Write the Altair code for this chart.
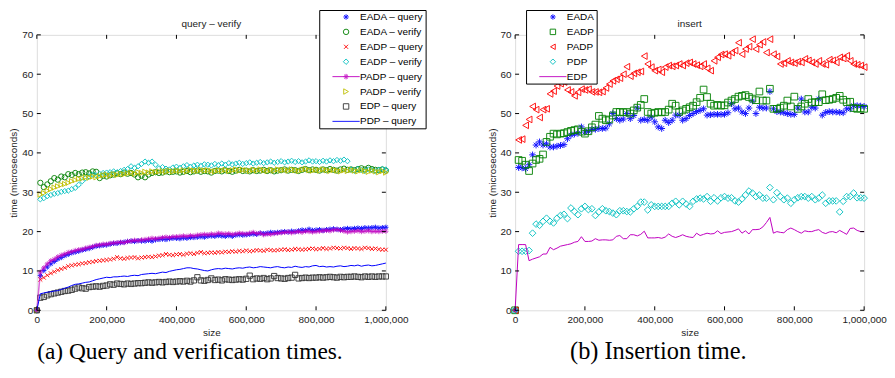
import altair as alt
import pandas as pd

SIZES = list(range(0, 1000001, 10000))
X_TICKS = [0, 200000, 400000, 600000, 800000, 1000000]
Y_TICKS = [0, 10, 20, 30, 40, 50, 60, 70]

# ---------------- left panel: query - verify ----------------
L_EADA_Q = [0, 8.8, 10.1, 11.0, 11.8, 12.4, 13.0, 13.4, 13.9, 14.2,
            14.6, 14.8, 15.0, 15.3, 15.5, 15.7, 16.0, 16.3, 16.4, 16.5,
            16.6, 16.8, 17.0, 17.0, 17.2, 17.3, 17.5, 17.6, 17.5, 17.7,
            17.6, 17.6, 17.8, 17.6, 17.9, 18.0, 18.1, 18.0, 18.2, 18.3,
            18.3, 18.2, 18.4, 18.3, 18.5, 18.5, 18.6, 18.7, 18.6, 18.8,
            18.9, 18.8, 19.0, 18.9, 18.8, 19.0, 18.8, 19.1, 19.2, 19.1,
            19.2, 19.3, 19.4, 19.3, 19.6, 19.5, 19.6, 19.8, 19.7, 19.8,
            19.9, 20.0, 19.9, 20.1, 20.0, 20.2, 20.4, 20.3, 20.6, 20.3,
            20.4, 20.5, 20.3, 20.5, 20.6, 20.7, 20.6, 20.5, 20.7, 20.8,
            20.7, 20.8, 20.9, 20.8, 21.0, 20.9, 21.0, 21.1, 20.9, 21.0, 21.1]
L_EADA_V = [0, 32.4, 31.3, 32.0, 32.8, 33.6, 33.2, 34.0, 33.8, 34.6,
            34.4, 34.9, 34.6, 35.0, 35.1, 34.8, 35.3, 35.2, 33.6, 34.2,
            34.0, 34.3, 34.5, 34.8, 34.6, 35.0, 34.7, 34.9, 34.5, 33.8,
            34.2, 33.8, 34.5, 34.9, 35.1, 34.9, 35.0, 35.3, 35.1, 35.2,
            35.3, 35.0, 35.2, 35.4, 35.1, 35.3, 35.5, 35.2, 35.4, 35.3,
            35.0, 35.4, 35.5, 35.3, 35.6, 35.4, 35.2, 35.5, 35.7, 35.4,
            35.5, 35.3, 35.6, 35.4, 35.5, 35.7, 35.4, 35.6, 35.3, 35.5,
            35.6, 35.8, 35.5, 35.7, 35.6, 35.4, 35.7, 35.9, 35.6, 35.8,
            35.7, 35.5, 35.8, 35.6, 35.9, 35.7, 35.5, 35.8, 36.0, 35.7,
            35.8, 35.6, 35.9, 36.1, 35.8, 36.2, 35.9, 35.7, 35.6, 35.8, 35.5]
L_EADP_Q = [0, 7.8, 8.3, 8.9, 9.4, 9.8, 10.2, 10.5, 10.8, 11.2,
            11.4, 11.6, 11.7, 11.9, 12.0, 12.2, 12.3, 12.5, 12.6, 12.7,
            12.8, 12.9, 13.1, 13.5, 13.2, 13.1, 13.3, 13.4, 13.5, 13.2,
            13.4, 13.5, 13.6, 13.5, 13.7, 13.9, 14.0, 14.3, 14.1, 14.0,
            14.2, 14.3, 14.1, 14.4, 14.5, 14.3, 14.6, 14.8, 14.5, 14.6,
            14.7, 14.6, 14.8, 14.7, 14.9, 14.8, 15.0, 14.9, 15.1, 15.0,
            15.2, 15.0, 15.1, 15.3, 15.2, 15.1, 15.4, 15.3, 15.2, 15.3,
            15.4, 15.5, 15.3, 15.4, 15.6, 15.5, 15.4, 15.5, 15.6, 15.7,
            15.5, 15.6, 15.8, 15.6, 15.7, 15.9, 15.8, 15.7, 15.9, 15.8,
            15.6, 15.8, 15.7, 15.6, 15.9, 15.8, 15.6, 15.7, 15.5, 15.4, 15.4]
L_EADP_V = [0, 28.2, 28.5, 29.0, 29.3, 29.6, 29.8, 30.1, 30.3, 30.4,
            30.8, 31.1, 31.9, 32.8, 33.6, 34.0, 34.5, 34.3, 34.7, 34.9,
            35.0, 35.1, 35.3, 35.1, 35.4, 35.7, 35.9, 36.6, 36.2, 36.6,
            37.2, 37.8, 37.5, 37.8, 37.0, 36.1, 36.4, 36.0, 35.8, 36.3,
            36.5, 36.2, 36.6, 36.9, 36.5, 36.8, 37.0, 36.7, 37.1, 37.0,
            36.8, 37.2, 36.9, 37.3, 37.0, 37.4, 37.1, 37.3, 37.5, 37.2,
            37.4, 37.6, 37.3, 37.5, 37.7, 37.4, 37.6, 37.8, 37.5, 37.7,
            37.9, 37.6, 37.8, 38.0, 37.7, 37.9, 37.6, 37.8, 38.1, 37.8,
            37.9, 37.7, 38.0, 37.8, 38.1, 37.9, 38.2, 38.0, 38.3, 37.9,
            35.8, 35.5, 35.9, 35.6, 35.4, 35.8, 35.6, 35.3, 35.7, 35.9, 35.8]
L_PADP_Q = [0, 9.7, 10.8, 11.8, 12.6, 13.0, 13.6, 14.0, 14.3, 14.7,
            14.9, 15.2, 15.4, 15.5, 15.8, 16.0, 16.2, 16.5, 16.6, 16.8,
            16.8, 17.0, 17.1, 17.2, 17.3, 17.2, 17.5, 17.6, 17.8, 17.7,
            17.9, 18.0, 18.1, 18.3, 18.2, 18.3, 18.5, 18.6, 18.5, 18.7,
            18.7, 18.8, 18.9, 18.8, 19.0, 18.9, 19.1, 19.2, 19.3, 19.2,
            19.4, 19.3, 19.6, 19.5, 19.4, 19.5, 19.3, 19.4, 19.6, 19.5,
            19.4, 19.6, 19.8, 19.5, 19.6, 19.2, 19.4, 19.3, 19.5, 19.6,
            19.7, 19.8, 19.9, 19.7, 19.9, 20.0, 19.8, 20.1, 20.0, 19.9,
            20.0, 20.1, 20.2, 20.3, 20.2, 20.4, 20.5, 20.3, 20.1, 19.9,
            20.0, 20.1, 20.2, 20.0, 20.1, 20.2, 20.0, 20.1, 20.0, 20.1, 20.1]
L_PADP_V = [0, 29.4, 29.8, 30.4, 30.8, 31.2, 31.5, 31.9, 32.1, 32.4,
            32.8, 33.1, 33.4, 33.5, 33.8, 33.7, 34.0, 33.8, 34.1, 34.3,
            34.5, 34.2, 34.6, 34.4, 34.7, 34.6, 34.8, 35.0, 34.7, 35.1,
            34.9, 35.2, 35.0, 35.3, 35.1, 35.3, 35.4, 35.2, 35.5, 35.3,
            35.5, 35.4, 35.6, 35.3, 35.7, 35.5, 35.4, 35.7, 35.5, 35.6,
            35.4, 35.3, 35.6, 35.5, 35.7, 35.4, 35.6, 35.8, 35.5, 35.7,
            35.6, 35.4, 35.7, 35.5, 35.8, 35.6, 35.4, 35.7, 35.5, 35.8,
            35.6, 35.7, 35.5, 35.8, 35.6, 35.4, 35.7, 35.9, 35.6, 35.5,
            35.7, 35.5, 35.8, 35.6, 35.4, 35.7, 35.5, 35.3, 35.6, 35.4,
            35.7, 35.5, 35.3, 35.6, 35.4, 35.2, 35.5, 35.3, 35.1, 35.4, 35.0]
L_EDP_Q = [0, 3.2, 3.4, 3.8, 4.1, 4.3, 4.5, 4.7, 4.9, 5.0,
           5.2, 5.5, 5.8, 5.6, 5.5, 5.9, 6.0, 6.1, 6.0, 6.2,
           6.3, 6.6, 6.5, 6.8, 6.7, 6.6, 6.8, 6.7, 6.8, 6.9,
           6.9, 7.0, 7.1, 7.0, 7.1, 7.2, 7.1, 7.2, 7.3, 7.2,
           7.3, 7.4, 7.3, 7.5, 7.3, 7.6, 8.4, 7.6, 7.5, 7.7,
           8.1, 7.7, 7.8, 7.6, 7.9, 7.8, 7.7, 7.8, 7.9, 7.8,
           8.0, 8.8, 7.9, 8.1, 8.0, 8.2, 7.9, 8.1, 8.7, 8.2,
           8.1, 8.0, 8.2, 8.3, 9.0, 8.1, 8.2, 8.3, 8.2, 8.3,
           8.3, 8.4, 8.3, 8.4, 8.5, 8.4, 8.3, 8.5, 8.4, 8.5,
           8.5, 8.6, 8.5, 8.4, 8.6, 8.5, 8.6, 8.5, 8.6, 8.6, 8.6]
L_PDP_Q = [0, 4.2, 4.4, 4.6, 4.7, 4.9, 5.0, 5.3, 5.6, 5.9,
           6.3, 6.6, 6.7, 6.9, 7.1, 7.2, 7.5, 7.8, 8.0, 8.2,
           8.4, 8.3, 8.5, 8.5, 8.6, 8.7, 8.6, 8.8, 8.9, 8.8,
           9.1, 9.2, 9.3, 9.4, 9.3, 9.5, 9.7, 9.6, 9.9, 10.1,
           10.3, 10.4, 10.6, 10.8, 10.8, 10.6, 10.5, 10.3, 10.1, 10.0,
           10.3, 10.5, 10.6, 10.5, 10.7, 10.6, 10.5, 10.7, 10.8, 10.7,
           10.9, 11.0, 10.8, 10.9, 11.1, 11.0, 10.9, 10.8, 11.0, 11.1,
           10.9, 10.8, 11.0, 10.9, 11.2, 11.0, 10.9, 11.1, 11.0, 11.3,
           11.4, 11.1, 11.2, 11.0, 11.1, 11.0, 11.2, 11.3, 11.1, 11.2,
           11.4, 11.3, 11.5, 11.2, 11.4, 11.5, 11.3, 11.4, 11.6, 11.8, 12.0]

# ---------------- right panel: insert ----------------
R_EADA = [0, 36.3, 36.2, 36.0, 37.0, 39.5, 42.0, 42.8, 42.0, 42.3,
          41.5, 41.5, 41.7, 41.9, 42.1, 43.6, 44.5, 44.8, 45.0, 46.6,
          45.3, 45.5, 46.0, 46.0, 46.2, 46.2, 46.3, 47.4, 50.0, 48.7,
          48.3, 48.6, 50.0, 48.7, 49.5, 51.4, 48.3, 48.5, 48.3, 49.1,
          47.9, 46.6, 46.2, 48.3, 47.7, 48.3, 49.6, 49.6, 48.3, 48.7,
          49.5, 50.0, 50.5, 50.8, 51.2, 49.6, 49.7, 49.8, 49.8, 49.8,
          49.8, 50.2, 52.5, 51.2, 51.4, 50.4, 50.0, 51.4, 53.2, 50.0,
          51.6, 51.4, 51.4, 55.6, 51.2, 50.5, 50.4, 50.2, 50.0, 49.8,
          49.8, 51.4, 53.7, 50.4, 50.4, 51.6, 51.4, 53.7, 49.6, 50.3,
          50.5, 50.4, 50.4, 50.3, 50.2, 51.2, 51.2, 52.0, 52.0, 51.9, 51.8]
R_EADP = [0, 38.2, 38.0, 37.0, 35.4, 37.3, 38.2, 38.5, 39.6, 42.8,
          44.1, 44.9, 44.7, 44.9, 45.0, 45.3, 45.6, 45.8, 46.0, 45.4,
          44.9, 45.5, 46.5, 47.2, 49.4, 48.7, 48.3, 48.5, 49.5, 50.4,
          50.4, 50.3, 50.4, 50.0, 50.8, 51.5, 52.2, 53.7, 50.4, 50.0,
          50.2, 50.4, 50.3, 50.4, 51.0, 52.5, 52.0, 50.4, 50.8, 51.2,
          51.6, 52.0, 52.9, 54.0, 56.1, 54.2, 52.5, 52.0, 52.2, 52.0,
          52.1, 52.8, 53.3, 53.7, 54.3, 54.5, 54.7, 54.2, 53.8, 53.4,
          55.6, 53.3, 53.3, 56.3, 51.2, 51.2, 51.5, 52.0, 53.3, 51.8,
          54.3, 51.2, 51.8, 52.5, 53.7, 52.8, 52.9, 52.9, 54.9, 53.4,
          53.5, 53.7, 54.0, 54.5, 53.5, 52.9, 53.0, 51.4, 51.2, 51.3, 51.2]
R_PADP = [0, 43.3, 43.5, 47.0, 48.5, 51.8, 51.0, 49.0, 51.0, 51.2,
          55.0, 55.7, 57.0, 57.6, 58.0, 56.0, 55.5, 54.5, 55.4, 56.2,
          56.0, 56.2, 55.5, 55.5, 55.4, 55.6, 56.5, 57.5, 58.3, 58.7,
          59.0, 60.0, 61.9, 59.5, 60.2, 60.5, 60.7, 64.6, 62.6, 61.8,
          60.9, 61.2, 60.5, 61.8, 62.2, 62.0, 62.2, 62.6, 62.2, 62.8,
          63.0, 62.6, 62.3, 62.0, 62.6, 61.5, 60.9, 63.4, 64.3, 65.0,
          65.1, 64.7, 65.5, 66.0, 68.0, 65.1, 66.4, 67.0, 68.9, 66.4,
          67.5, 68.2, 65.5, 68.9, 65.1, 64.5, 62.6, 62.8, 63.4, 63.0,
          62.8, 63.2, 63.0, 63.9, 63.5, 63.0, 62.6, 63.4, 62.6, 62.4,
          63.7, 63.5, 63.0, 64.3, 64.0, 64.7, 63.4, 62.6, 62.4, 62.2, 61.8]
R_PDP = [0, 15.0, 15.0, 15.0, 15.2, 19.6, 21.9, 21.6, 22.6, 23.4,
         22.6, 22.2, 23.4, 24.1, 24.4, 23.3, 26.0, 25.1, 24.3, 25.8,
         26.4, 25.6, 25.8, 24.1, 25.0, 25.8, 25.3, 25.1, 24.7, 24.3,
         25.3, 25.3, 25.1, 25.0, 25.8, 26.4, 27.5, 27.5, 25.5, 26.8,
         26.4, 26.4, 26.4, 26.4, 26.4, 27.2, 27.7, 26.8, 27.7, 27.0,
         26.4, 27.7, 28.3, 28.5, 28.3, 28.9, 27.7, 28.6, 27.8, 28.6,
         28.9, 28.5, 28.6, 27.8, 27.5, 28.3, 29.3, 30.3, 29.8, 28.9,
         29.3, 28.5, 28.5, 31.2, 28.1, 29.9, 28.9, 28.1, 28.5, 27.2,
         28.1, 28.6, 28.9, 28.9, 28.5, 28.9, 28.1, 28.5, 29.3, 27.2,
         27.8, 27.8, 27.8, 25.0, 27.7, 28.9, 28.9, 29.8, 28.6, 28.6, 28.5]
R_EDP = [0, 16.7, 16.7, 16.7, 12.6, 13.0, 13.3, 13.6, 14.3, 14.3,
         16.0, 15.4, 15.8, 16.3, 16.5, 16.7, 16.9, 17.3, 17.5, 18.7,
         17.5, 17.5, 17.6, 18.2, 17.8, 17.9, 17.9, 17.8, 17.9, 18.8,
         19.0, 18.2, 18.2, 19.2, 19.2, 18.9, 19.3, 20.1, 18.4, 18.4,
         18.4, 18.5, 18.3, 18.6, 19.4, 18.8, 18.5, 18.8, 19.2, 18.8,
         18.6, 18.5, 19.6, 19.0, 19.3, 19.6, 19.4, 19.5, 20.2, 19.5,
         19.8, 19.9, 20.0, 20.3, 20.7, 19.6, 20.2, 19.4, 20.5, 20.5,
         20.6, 21.2, 22.3, 23.6, 19.6, 20.0, 19.8, 19.7, 20.5, 20.9,
         20.5, 20.0, 19.6, 20.2, 20.0, 20.0, 20.3, 20.5, 19.8, 19.5,
         19.9, 20.0, 19.7, 20.3, 19.8, 19.3, 20.8, 20.9, 20.3, 20.0, 20.0]

D = "\u2013"
LEFT_NAMES = [f"EADA {D} query", f"EADA {D} verify", f"EADP {D} query", f"EADP {D} verify",
              f"PADP {D} query", f"PADP {D} verify", f"EDP {D} query", f"PDP {D} query"]
LEFT_VALUES = [L_EADA_Q, L_EADA_V, L_EADP_Q, L_EADP_V, L_PADP_Q, L_PADP_V, L_EDP_Q, L_PDP_Q]
RIGHT_NAMES = ["EADA", "EADP", "PADP", "PDP", "EDP"]
RIGHT_VALUES = [R_EADA, R_EADP, R_PADP, R_PDP, R_EDP]

BLUE, GREEN, RED, CYAN, MAG, YEL, BLK = "#0000ff", "#008000", "#ff0000", "#00bfbf", "#bf00bf", "#bfbf00", "#333333"
ASTER = "M-1,0L1,0M0,-1L0,1M-0.7,-0.7L0.7,0.7M-0.7,0.7L0.7,-0.7"
XMARK = "M-0.75,-0.75L0.75,0.75M-0.75,0.75L0.75,-0.75"
LINE = "M-5,0L5,0"
LINE_ASTER = LINE + ASTER

LEFT_COLORS = [BLUE, GREEN, RED, CYAN, MAG, YEL, BLK, BLUE]
LEFT_SHAPES = [ASTER, "circle", XMARK, "diamond", LINE_ASTER, "triangle-right", "square", LINE]
RIGHT_COLORS = [BLUE, GREEN, RED, CYAN, MAG]
RIGHT_SHAPES = [ASTER, "square", "triangle-left", "diamond", LINE]

W, H = 351, 277
FONT = "Liberation Sans"
TXT = "#222222"


def long_df(names, values):
    rows = []
    for n, vals in zip(names, values):
        assert len(vals) == len(SIZES), (n, len(vals))
        for s, v in zip(SIZES, vals):
            rows.append({"size": s, "time": v, "series": n})
    return pd.DataFrame(rows)


def make_legend(lx, ly):
    return alt.Legend(orient="none", legendX=lx, legendY=ly, title=None,
                      fillColor="white", strokeColor="black", padding=2,
                      rowPadding=5, symbolSize=30, symbolStrokeWidth=1,
                      symbolOffset=20, labelOffset=9,
                      labelFont=FONT, labelFontSize=10, labelColor="black")


def axis(title, values, fmt=None):
    kw = dict(values=values, title=title, ticks=False, domain=False, grid=False,
              labelFlush=False, labelOverlap=False, labelPadding=4, titlePadding=3,
              labelFont=FONT, labelFontSize=10, labelColor=TXT,
              titleFont=FONT, titleFontSize=10, titleFontWeight="normal", titleColor=TXT)
    if fmt:
        kw["format"] = fmt
    return alt.Axis(**kw)


def panel(names, values, colors, shapes, line_names, aster_line_names, title, caption,
          lx, ly, psize, cap_x, cap_size):
    df = long_df(names, values)
    xs = alt.Scale(domain=[0, 1000000], nice=False)
    ys = alt.Scale(domain=[0, 70], nice=False)
    x = alt.X("size:Q", scale=xs, axis=axis("size", X_TICKS, ",d"))
    y = alt.Y("time:Q", scale=ys, axis=axis("time (microseconds)", Y_TICKS))
    leg = make_legend(lx, ly)
    cscale = alt.Scale(domain=names, range=colors)
    sscale = alt.Scale(domain=names, range=shapes)

    marker_df = df[~df["series"].isin(line_names + aster_line_names)]
    pts = alt.Chart(marker_df).mark_point(filled=False, size=psize, strokeWidth=1, opacity=0.9).encode(
        x=x, y=y,
        color=alt.Color("series:N", scale=cscale, legend=leg),
        shape=alt.Shape("series:N", scale=sscale, legend=leg),
    )
    layers = [pts]
    if aster_line_names:
        adf = df[df["series"].isin(aster_line_names)]
        layers.append(alt.Chart(adf).mark_line(strokeWidth=1.5, opacity=0.6).encode(
            x=x, y=y, color=alt.Color("series:N", scale=cscale, legend=None)))
        layers.append(alt.Chart(adf).mark_point(filled=False, shape=ASTER, size=psize, strokeWidth=1).encode(
            x=x, y=y, color=alt.Color("series:N", scale=cscale, legend=None)))
    if line_names:
        ldf = df[df["series"].isin(line_names)]
        layers.append(alt.Chart(ldf).mark_line(strokeWidth=1).encode(
            x=x, y=y, color=alt.Color("series:N", scale=cscale, legend=None)))

    xt = pd.DataFrame({"size": X_TICKS})
    yt = pd.DataFrame({"time": Y_TICKS})
    tick = dict(color="black", strokeWidth=1)
    layers += [
        alt.Chart(xt).mark_rule(**tick).encode(x=x, y=alt.value(H), y2=alt.value(H - 4)),
        alt.Chart(xt).mark_rule(**tick).encode(x=x, y=alt.value(0), y2=alt.value(4)),
        alt.Chart(yt).mark_rule(**tick).encode(y=y, x=alt.value(0), x2=alt.value(4)),
        alt.Chart(yt).mark_rule(**tick).encode(y=y, x=alt.value(W - 4), x2=alt.value(W)),
    ]
    ttl = alt.Chart(pd.DataFrame({"t": [title]})).mark_text(
        font=FONT, fontSize=10, color=TXT, baseline="middle", align="center"
    ).encode(x=alt.value(W / 2), y=alt.value(-11), text="t:N")
    cap = alt.Chart(pd.DataFrame({"t": [caption]})).mark_text(
        font="Liberation Serif", fontSize=cap_size, color="black", baseline="middle", align="center"
    ).encode(x=alt.value(cap_x), y=alt.value(319), text="t:N")
    layers += [ttl, cap]

    return alt.layer(*layers).properties(width=W, height=H)


left = panel(LEFT_NAMES, LEFT_VALUES, LEFT_COLORS, LEFT_SHAPES,
             line_names=[f"PDP {D} query"], aster_line_names=[f"PADP {D} query"],
             title=f"query {D} verify", caption="(a) Query and verification times.",
             lx=284, ly=-25, psize=28, cap_x=154, cap_size=23.5)
right = panel(RIGHT_NAMES, RIGHT_VALUES, RIGHT_COLORS, RIGHT_SHAPES,
              line_names=["EDP"], aster_line_names=[],
              title="insert", caption="(b) Insertion time.",
              lx=11, ly=-25, psize=45, cap_x=144, cap_size=24.5)

chart = alt.hconcat(left, right, spacing=130, bounds="flush", padding=0).resolve_scale(
    color="independent", shape="independent"
).resolve_legend(color="independent", shape="independent").configure_view(
    stroke="black", strokeWidth=1.5
).configure(background="white")

chart.save("out.html", embed_options={"renderer": "svg", "actions": False})
